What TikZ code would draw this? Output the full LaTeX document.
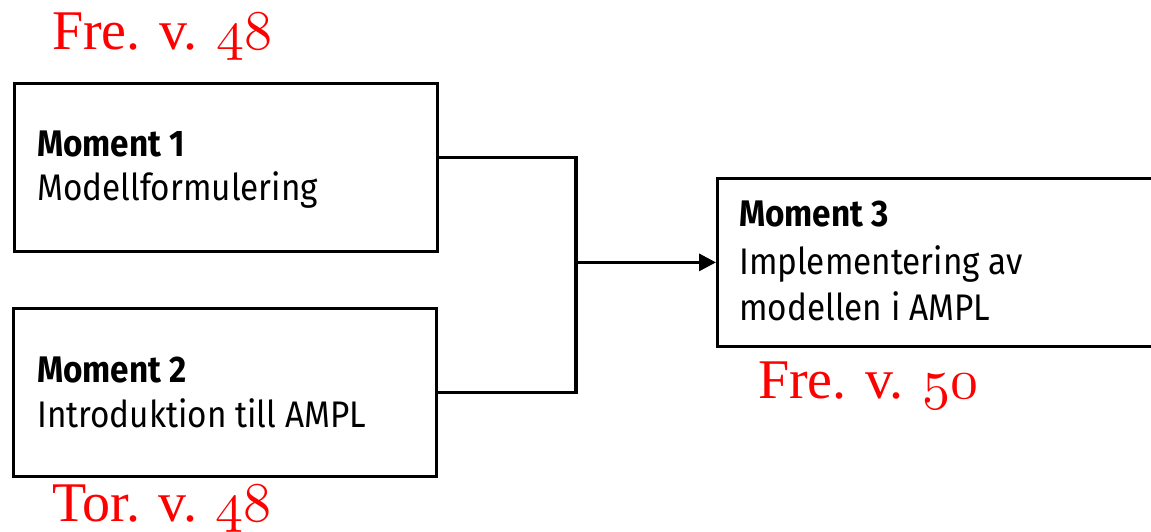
\documentclass[tikz,border=0pt]{standalone}
\usepackage{fontspec}
\setmainfont{Fira Sans}[FakeStretch=0.9]
\newfontfamily\redfont{Liberation Serif}
\newcommand{\osnum}[1]{\scalebox{5.6}{\normalsize$\mathnormal{#1}$}}
\usetikzlibrary{arrows.meta}
\tikzset{
  box/.style={draw=black, line width=2.8pt, rectangle, inner sep=0pt},
  btxt/.style={anchor=base west, inner sep=0pt, font=\fontsize{37}{44}\selectfont},
  btitle/.style={btxt, font=\fontsize{37}{44}\selectfont\bfseries},
  redlbl/.style={anchor=base west, inner sep=0pt, text=red, font=\redfont\fontsize{56}{60}\selectfont},
  conn/.style={line width=3.2pt},
}
\begin{document}
\begin{tikzpicture}[x=1pt,y=1pt]
\useasboundingbox[fill=white] (0,0) rectangle (1151,-532);
\node[box, minimum width=423pt, minimum height=168pt, anchor=north west] (b1) at (13,-82) {};
\node[box, minimum width=423pt, minimum height=168pt, anchor=north west] (b2) at (12,-307) {};
\node[box, minimum width=450pt, minimum height=168pt, anchor=north west] (b3) at (716,-177) {};
\node[btitle] (t1) at (37,-157) {Moment 1};
\node[btxt] (s1) at (37,-200) {Modellformulering};
\node[btitle] (t2) at (37,-382) {Moment 2};
\node[btxt] (s2) at (37,-427) {Introduktion till AMPL};
\node[btitle] (t3) at (739,-226) {Moment 3};
\node[btxt] (s3a) at (739,-274) {Implementering av};
\node[btxt] (s3b) at (739,-320) {modellen i AMPL};
\node[redlbl] (r1) at (52,-50) {Fre. v. \osnum{48}};
\node[redlbl] (r2) at (52,-521) {Tor. v. \osnum{48}};
\node[redlbl] (r3) at (758,-398) {Fre. v. \osnum{50}};
\path (b3.west) ++(-140,0) coordinate (j);
\coordinate (a1) at ([yshift=10pt]b1.east);
\draw[conn] (a1) -- (j |- a1) -- (j |- b2.east) -- (b2.east);
\draw[conn, -{Triangle[length=17pt,width=17pt]}] (j) -- (b3.west);
\end{tikzpicture}
\end{document}
